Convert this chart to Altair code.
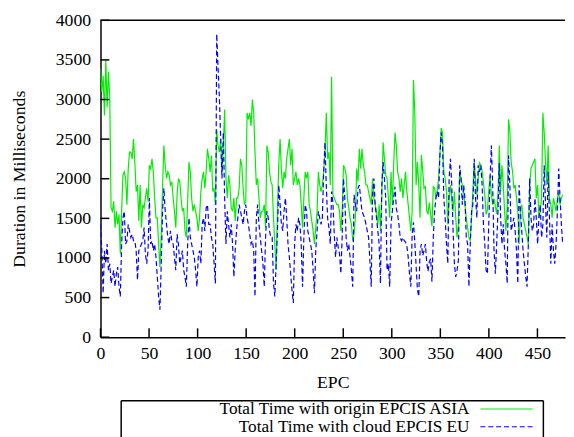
import altair as alt
import pandas as pd

SERIES = ["Total Time with origin EPCIS ASIA", "Total Time with cloud EPCIS EU"]
EPC_LAST = 476
X_END = 478.4

x_ticks = [0, 50, 100, 150, 200, 250, 300, 350, 400, 450]
y_ticks = [0, 500, 1000, 1500, 2000, 2500, 3000, 3500, 4000]

# Total Time with origin EPCIS ASIA (ms), read left to right
asia = [
    3391, 3100, 3300, 2800, 3494, 2900, 3350, 3039, 1631, 1590, 1714, 1383, 1590, 1424, 1549, 1052,
    1600, 2045, 2087, 2004, 1673, 2128, 2335, 2335, 2252, 2501, 2211, 1838, 1921, 1466, 1921, 1383,
    1673, 1631, 1756, 1880, 1714, 2170, 2128, 2252, 2087, 1756, 1507, 1507, 1176,
    886, 1300, 1900, 2418, 2170, 2004, 2087, 2045, 1921, 1963, 1756, 1590, 1383, 1797, 2004, 1963,
    1756, 1590, 1631, 1342, 1259, 1714, 2211, 2087, 1756, 1590, 1673, 1590, 1507, 1342, 1507, 1838,
    2004, 2087, 1880, 2087, 2377, 2252, 2087, 2294, 1838, 1880, 1673,
    2625, 2418, 2335, 2501, 2087, 2418, 2873, 2004, 1756, 2045, 1921, 1631, 1590, 1756, 1466, 1756,
    1756, 1880, 2252, 2170, 1880, 1673, 1714, 2832, 2749, 2832, 2666, 2998, 2832, 2335, 1921, 2004,
    1756, 1507, 1590, 1590, 1673, 1383, 2418, 2335, 2087, 1963, 1921,
    1507, 1176, 845, 1600, 2200, 2501, 2100, 1880, 2087, 2004, 2252, 2377, 2501, 2170, 2377, 1921,
    2004, 2087, 1921, 2004, 1921, 1673, 1383, 1756, 2087, 2004, 2087, 1673, 1590, 1466, 1342, 1176,
    1383, 1590, 2087, 1921, 1838, 1921, 2087, 2335, 2832, 2252, 2335,
    1921, 3287, 1800, 1756, 1714, 1673, 1673, 1590, 1342, 1590, 2170, 2128, 2045, 1756, 1631, 1507,
    1424, 1217, 1300, 1507, 2128, 1963, 2377, 2128, 2377, 2170, 2087, 1921, 1921, 1838, 1756, 1673,
    2004, 1756, 1673, 1590, 1424, 1673, 1342, 1756, 2459, 2252, 2045,
    2004, 1756, 1507, 2087, 1673, 2170, 2584, 2418, 2087, 2004, 1838, 2004, 1756, 1921, 2087, 1838,
    1673, 1507, 1342, 1590, 3246, 2832, 1921, 2211, 1921, 1507, 2300, 2100, 1880, 1900, 1600, 1550,
    1700, 1550, 1400, 1900, 1880, 1756, 1850, 2000, 2300, 2640, 2580,
    2087, 2004, 1838, 1424, 1756, 1921, 1756, 1590, 1838, 1507, 1259, 1424, 2087, 2004, 1921, 1838,
    1673, 1507, 1383, 1259, 1217, 1507, 1838, 2200, 2000, 1800, 2000, 2200, 2170, 2100, 1950, 1800,
    1550, 1600, 1850, 2045, 1800, 1673, 1750, 1650, 1560, 1800, 2420,
    1838, 2170, 1921, 1590, 1342, 1673, 2749, 2600, 2200, 2100, 1880, 1921, 1756, 1590, 1176, 1590,
    1673, 1507, 1424, 1342, 1259, 1176, 1921, 2128, 2170, 2211, 2252, 1756, 1921, 1507, 1590, 1756,
    2832, 2584, 2211, 1921, 2418, 1756, 1673, 1507, 1756, 1673, 1590, 1756, 1838, 1673, 1756, 1800,
]

# Total Time with cloud EPCIS EU (ms), read left to right
eu = [
    1425, 1100, 555, 1090, 930, 1176, 845, 928, 680, 762, 845, 638, 803, 886, 638, 514,
    1176, 1507, 1590, 1176, 1217, 1424, 1342, 1259, 1300, 1217, 1217, 1093, 721, 1093, 1135, 1176,
    1217, 1383, 1052, 928, 1093, 1756, 1176, 1217, 1093, 1176, 1010, 762, 514,
    348, 928, 1600, 1880, 1590, 1424, 1259, 1176, 1342, 1217, 1176, 1010, 845, 1300, 1176, 928,
    1010, 1093, 845, 762, 638, 1176, 1507, 1259, 1176, 1093, 1010, 845, 638, 1010, 1093, 928,
    1424, 1507, 1342, 1631, 1673, 1424, 1424, 1259, 1176, 928, 679,
    3826, 3412, 3039, 2501, 2004, 2584, 1756, 1176, 1590, 1424, 1259, 1424, 1176, 762, 1093, 1342,
    1507, 1673, 1590, 1507, 1424, 1590, 1673, 1507, 1424, 1300, 1176, 1217, 1093, 514, 1507, 1673,
    1424, 1259, 1093, 928, 638, 1259, 1590, 1507, 1342, 1259, 1259,
    679, 514, 928, 1342, 1921, 1673, 1424, 1342, 1590, 1756, 1507, 1176, 1010, 803, 596, 431,
    1176, 1424, 1342, 1507, 1424, 1176, 638, 1259, 1673, 1590, 1342, 1259, 1176, 1093, 845, 555,
    1093, 1342, 1590, 1507, 1424, 1507, 2087, 2459, 1900, 1500, 1380,
    1176, 1838, 1700, 1300, 1010, 1259, 1135, 1052, 803, 1259, 2004, 1756, 1259, 1093, 1176, 1010,
    845, 638, 1797, 1673, 1590, 1880, 1921, 1756, 1590, 1549, 1507, 1424, 1342, 1259, 969, 638,
    1797, 2004, 1673, 1507, 1342, 1176, 679, 1921, 2211, 2004, 1756,
    845, 928, 638, 1424, 1590, 1756, 1900, 1630, 1549, 1424, 1250, 1217, 1259, 1217, 1200, 1150,
    1010, 800, 638, 1300, 1450, 1200, 900, 600, 514, 1093, 1176, 1030, 1093, 1176, 950, 830,
    950, 990, 700, 1259, 1590, 1756, 1838, 1756, 2300, 2584, 2418,
    1756, 1507, 1176, 928, 2004, 2252, 1921, 1342, 928, 762, 845, 969, 2170, 2004, 1673, 1921,
    1756, 1259, 1176, 638, 1176, 1590, 1673, 2252, 1756, 1507, 2170, 2087, 2170, 1921, 1424, 1176,
    845, 800, 1424, 2004, 2420, 1900, 1100, 800, 1176, 1590, 2200,
    1507, 1176, 1424, 1093, 928, 679, 2294, 1921, 1342, 1424, 1507, 1342, 1093, 679, 1921, 1590,
    1342, 1093, 928, 762, 638, 1176, 2004, 1507, 1342, 1424, 1756, 1507, 1176, 1507, 1673, 1259,
    1424, 2170, 1673, 1259, 2087, 1507, 928, 1424, 1093, 928, 1176, 1590, 2128, 1756, 1424, 1176,
]


def frame(vals, name):
    n = len(vals)
    return pd.DataFrame({
        "epc": [i * EPC_LAST / (n - 1) for i in range(n)],
        "ms": vals,
        "series": name,
    })


df_asia = frame(asia, SERIES[0])
df_eu = frame(eu, SERIES[1])

FONT = "Liberation Serif"
FS = 18
LFS = 17.5
W, H = 472, 322

xs = alt.Scale(domain=[0, X_END], nice=False, zero=False)
ys = alt.Scale(domain=[0, 4000], nice=False)

x_axis = alt.Axis(values=x_ticks, title="EPC", ticks=False, grid=False, labelFlush=False, format="d",
                  labelFont=FONT, labelFontSize=FS, titleFont=FONT, titleFontSize=FS,
                  labelPadding=8, titlePadding=11, domainColor="black", domainWidth=1.5)
y_axis = alt.Axis(values=y_ticks, title="Duration in Milliseconds", ticks=False, grid=False,
                  labelFlush=False, format="d", labelPadding=10, titlePadding=27,
                  labelFont=FONT, labelFontSize=FS, titleFont=FONT, titleFontSize=FS,
                  domainColor="black", domainWidth=1.5)

x_enc = alt.X("epc:Q", scale=xs, axis=x_axis)
y_enc = alt.Y("ms:Q", scale=ys, axis=y_axis)

green = alt.Chart(df_asia).mark_line(color="#00ee00", strokeWidth=1.2, clip=True).encode(x=x_enc, y=y_enc)
blue = alt.Chart(df_eu).mark_line(color="#0000ff", strokeWidth=1.2, strokeDash=[5, 3], clip=True).encode(x=x_enc, y=y_enc)

ytick = alt.Chart(pd.DataFrame({"ms": y_ticks})).mark_rule(color="black", strokeWidth=1.5).encode(
    y=y_enc, x=alt.value(0), x2=alt.value(9))
xtick = alt.Chart(pd.DataFrame({"epc": x_ticks})).mark_rule(color="black", strokeWidth=1.5).encode(
    x=x_enc, y=alt.value(H), y2=alt.value(H - 9))

one = pd.DataFrame({"k": [0]})
top_border = alt.Chart(one).mark_rule(color="black", strokeWidth=1.5).encode(
    x=alt.value(0), x2=alt.value(W), y=alt.value(0))

# legend box (open at the bottom, cut by the page edge)
LX0, LX1, LY0, LY1 = 21, 450, 386.5, 424
box_top = alt.Chart(one).mark_rule(color="black", strokeWidth=1.5).encode(
    x=alt.value(LX0), x2=alt.value(LX1), y=alt.value(LY0))
box_l = alt.Chart(one).mark_rule(color="black", strokeWidth=1.5).encode(
    x=alt.value(LX0), y=alt.value(LY0), y2=alt.value(LY1))
box_r = alt.Chart(one).mark_rule(color="black", strokeWidth=1.5).encode(
    x=alt.value(LX1), y=alt.value(LY0), y2=alt.value(LY1))

R1, R2 = 395, 413
lab1 = alt.Chart(one).mark_text(align="right", baseline="middle", font=FONT, fontSize=LFS, color="black").encode(
    x=alt.value(375), y=alt.value(R1), text=alt.value(SERIES[0]))
lab2 = alt.Chart(one).mark_text(align="right", baseline="middle", font=FONT, fontSize=LFS, color="black").encode(
    x=alt.value(375), y=alt.value(R2), text=alt.value(SERIES[1]))
sym1 = alt.Chart(one).mark_rule(color="#00ee00", strokeWidth=1.2).encode(
    x=alt.value(386), x2=alt.value(439), y=alt.value(R1))
sym2 = alt.Chart(one).mark_rule(color="#0000ff", strokeWidth=1.2, strokeDash=[5, 3]).encode(
    x=alt.value(386), x2=alt.value(439), y=alt.value(R2))

chart = alt.layer(
    green, blue, ytick, xtick, top_border, box_top, box_l, box_r, lab1, lab2, sym1, sym2
).properties(
    width=W, height=H, padding={"left": 3, "top": 0, "right": 0, "bottom": 0}
).configure_view(stroke=None).configure_axis(
    labelFont=FONT, labelFontSize=FS, labelColor="black",
    titleFont=FONT, titleFontSize=FS, titleFontWeight="normal", titleColor="black",
)

chart.save("out.html", embed_options={"renderer": "svg", "actions": False})
